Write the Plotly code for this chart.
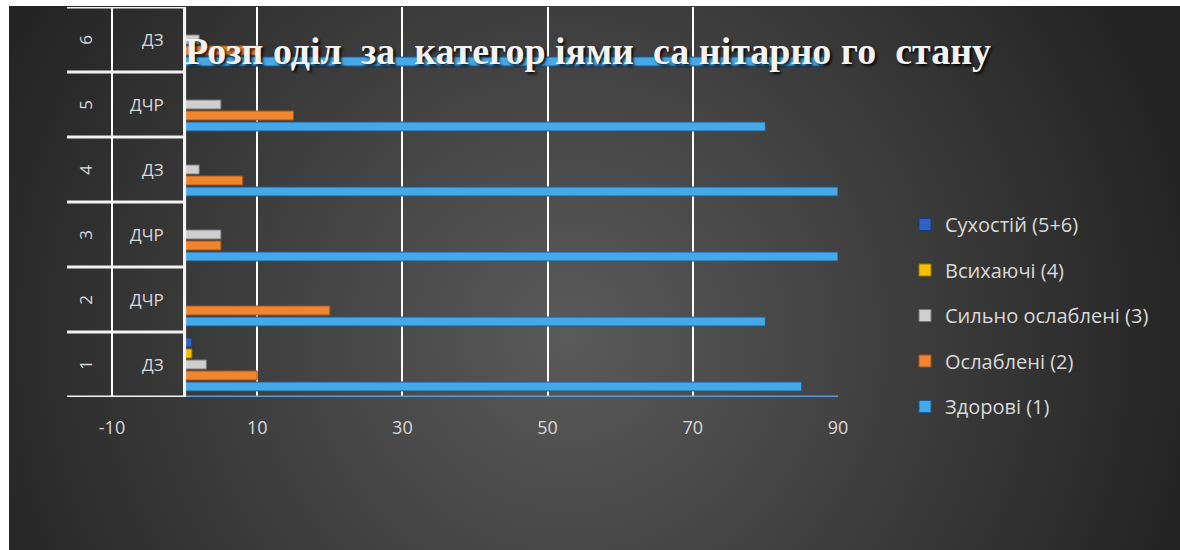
import base64
import plotly.graph_objects as go

groups = [1, 2, 3, 4, 5, 6]
group_labels = ["ДЗ", "ДЧР", "ДЧР", "ДЗ", "ДЧР", "ДЗ"]
series_names = ["Здорові (1)", "Ослаблені (2)", "Сильно ослаблені (3)", "Всихаючі (4)", "Сухостій (5+6)"]
zdorovi = [85, 80, 90, 90, 80, 88]
oslableni = [10, 20, 5, 8, 15, 10]
sylno_oslableni = [3, 0, 5, 2, 5, 2]
vsyhaiuchi = [1, 0, 0, 0, 0, 0]
suhostii = [1, 0, 0, 0, 0, 0]
x_ticks = [-10, 10, 30, 50, 70, 90]
title_text = "Розп оділ  за  категор іями  са нітарно го  стану"

series_values = [zdorovi, oslableni, sylno_oslableni, vsyhaiuchi, suhostii]
fills = ["#47a8e8", "#ef852e", "#cfcfcf", "#f5c000", "#2f63c4"]
edges = ["#1d5a92", "#a8531a", "#7a7a7a", "#9c7a00", "#1a3a80"]

W, H = 1180, 550
L, R, T, B = 67, 1180 - 838, 7, 550 - 397
pw, ph = W - L - R, H - T - B

fig = go.Figure()
n = len(series_names)
for i, (name, vals) in enumerate(zip(series_names, series_values)):
    fig.add_trace(go.Bar(
        y=groups, x=vals, name=name, orientation="h",
        marker=dict(color=fills[i], line=dict(color=edges[i], width=1)),
        legendgroup=name, legendrank=(n - i) * 10,
    ))

# gradient background as an svg image
svg = (
    "<svg xmlns='http://www.w3.org/2000/svg' width='1171' height='544' viewBox='0 0 1171 544' preserveAspectRatio='none'>"
    "<defs><radialGradient id='g' gradientUnits='userSpaceOnUse' cx='560' cy='330' r='640'>"
    "<stop offset='0' stop-color='#5a5a5a'/><stop offset='0.55' stop-color='#3c3c3c'/>"
    "<stop offset='1' stop-color='#232323'/></radialGradient></defs>"
    "<rect width='1171' height='544' fill='url(#g)'/></svg>"
)
src = "data:image/svg+xml;base64," + base64.b64encode(svg.encode()).decode()
x0p = (9 - L) / pw
y0p = (H - B - 6) / ph
fig.add_layout_image(dict(
    source=src, xref="paper", yref="paper", x=x0p, y=y0p,
    sizex=(W - 9) / pw, sizey=(H - 6) / ph, xanchor="left", yanchor="top",
    sizing="stretch", layer="below",
))

xmin = -16.2
shapes = []
# table horizontal lines
for k in range(len(groups) + 1):
    yy = 0.5 + k
    shapes.append(dict(type="line", xref="x", yref="y", x0=xmin, x1=0, y0=yy, y1=yy,
                       line=dict(color="#f2f2f2", width=3)))
# blue category axis line
shapes.append(dict(type="line", xref="x", yref="y", x0=0, x1=90, y0=0.5, y1=0.5,
                   line=dict(color="#5b9bd5", width=3)))
# vertical axis line at 0
shapes.append(dict(type="line", xref="x", yref="y", x0=0, x1=0, y0=0.5, y1=6.5,
                   line=dict(color="#f2f2f2", width=3)))
fig.update_layout(shapes=shapes)

annotations = []
for g, lab in zip(groups, group_labels):
    annotations.append(dict(x=-2.6, y=g, xref="x", yref="y", text=lab, showarrow=False,
                            xanchor="right", yanchor="middle",
                            font=dict(family="Open Sans", size=17, color="#d9d9d9")))
    annotations.append(dict(x=-13.7, y=g, xref="x", yref="y", text=str(g), showarrow=False,
                            xanchor="center", yanchor="middle", textangle=-90,
                            font=dict(family="Open Sans", size=17, color="#d9d9d9")))
fig.update_layout(annotations=annotations)

fig.update_layout(
    width=W, height=H,
    margin=dict(l=L, r=R, t=T, b=B, pad=0),
    paper_bgcolor="white",
    plot_bgcolor="rgba(0,0,0,0)",
    barmode="group",
    bargap=0.154,
    bargroupgap=0.18,
    title=dict(text=title_text, xref="container", yref="container",
               x=185 / W, y=1 - 51 / H, xanchor="left", yanchor="middle",
               font=dict(family="Liberation Serif", size=38, color="#f2f2f2", weight="bold",
                         shadow="2px 2px 3px rgba(0,0,0,0.9)")),
    xaxis=dict(range=[xmin, 90], tickmode="array", tickvals=x_ticks,
               ticktext=[str(v) for v in x_ticks],
               showgrid=True, gridcolor="#ffffff", gridwidth=2,
               zeroline=True, zerolinecolor="#f2f2f2", zerolinewidth=3,
               showline=False, ticks="", ticklabelstandoff=18,
               tickfont=dict(family="Open Sans", size=18, color="#d9d9d9")),
    yaxis=dict(range=[0.5, 6.5], showticklabels=False, showgrid=False,
               zeroline=False, showline=False, ticks=""),
    legend=dict(x=(905 - L) / pw, y=(397 - 205) / ph, xanchor="left", yanchor="top",
                traceorder="grouped", tracegroupgap=16.5,
                bgcolor="rgba(0,0,0,0)",
                font=dict(family="Open Sans", size=20, color="#d9d9d9")),
    showlegend=True,
)

fig.write_html("out.html")
